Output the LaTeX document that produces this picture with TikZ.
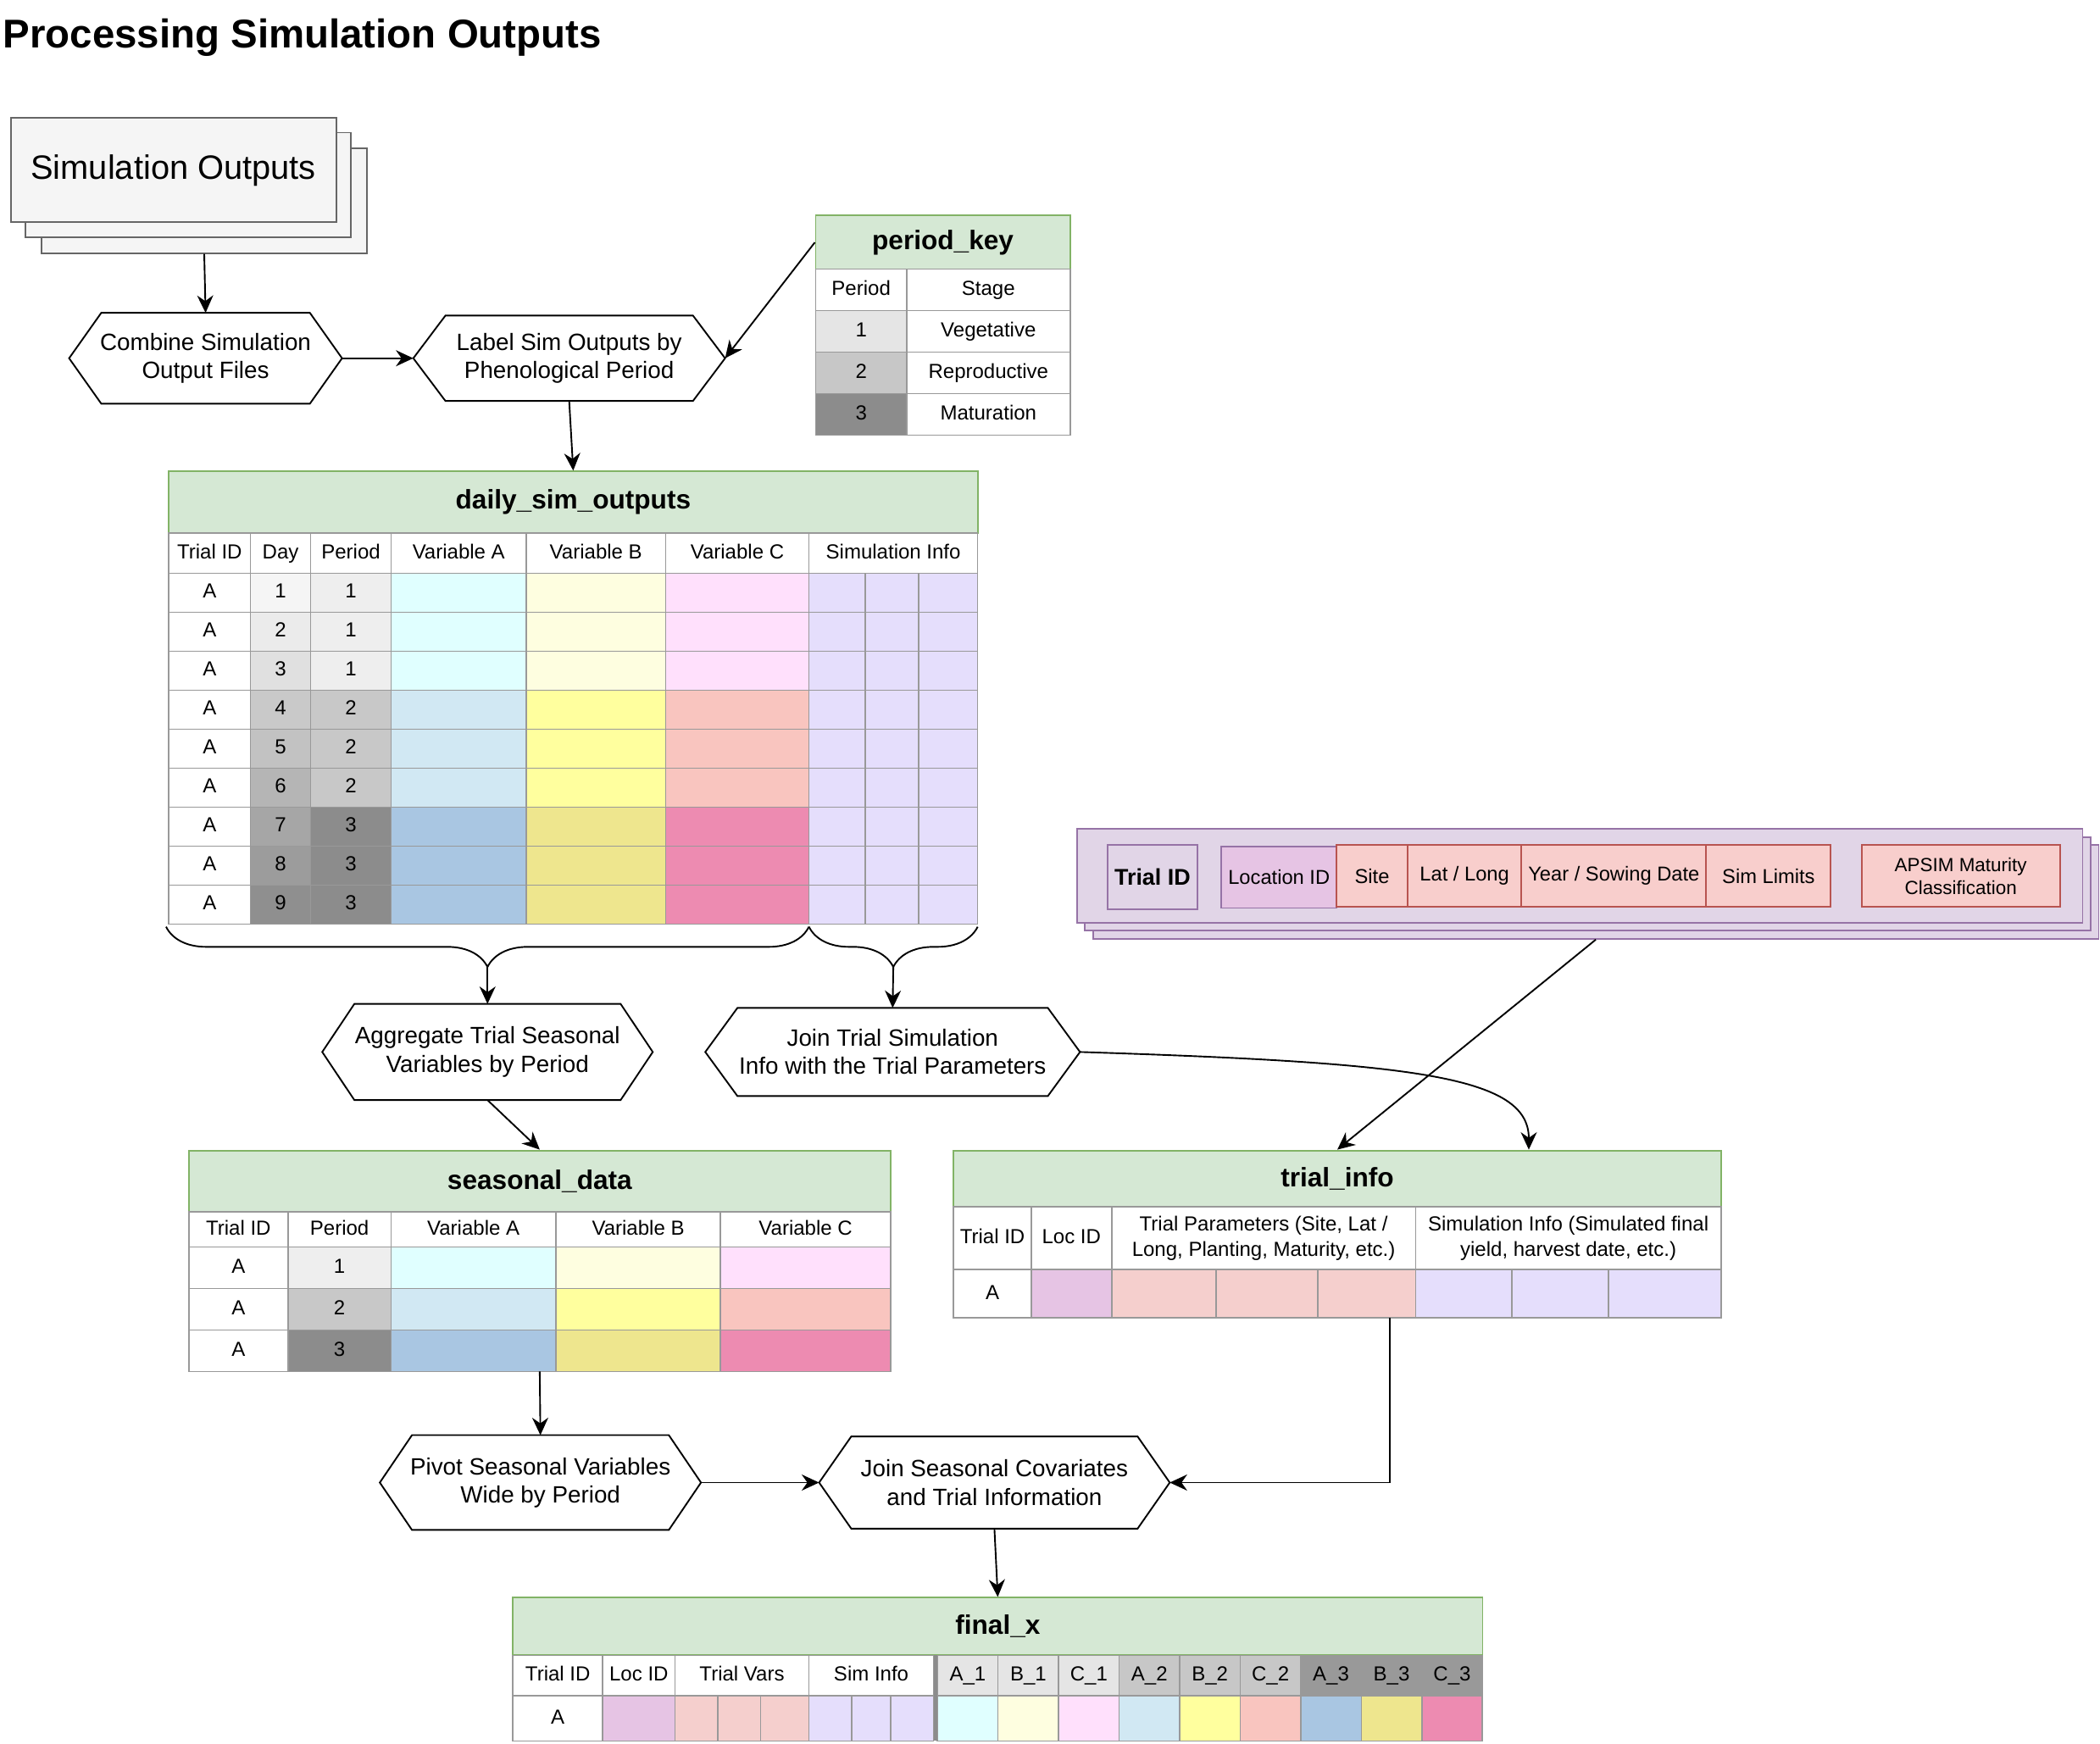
\documentclass[tikz,border=0pt]{standalone}
\usepackage{fontspec}
\setmainfont{Liberation Sans}
\usetikzlibrary{calc, positioning, arrows.meta, decorations.pathreplacing}
\definecolor{gridline}{HTML}{999999}
\definecolor{tabhead}{HTML}{D5E8D4}
\definecolor{tabedge}{HTML}{82B366}
\definecolor{stackfill}{HTML}{F5F5F5}
\definecolor{stackedge}{HTML}{666666}
\definecolor{per1}{HTML}{EEEEEE}
\definecolor{per2}{HTML}{C8C8C8}
\definecolor{per3}{HTML}{8C8C8C}
\definecolor{varA1}{HTML}{E0FFFF}
\definecolor{varA2}{HTML}{D1E8F3}
\definecolor{varA3}{HTML}{A9C6E2}
\definecolor{varB1}{HTML}{FEFEE0}
\definecolor{varB2}{HTML}{FFFF9E}
\definecolor{varB3}{HTML}{EEE68E}
\definecolor{varC1}{HTML}{FFE0FC}
\definecolor{varC2}{HTML}{F9C5BF}
\definecolor{varC3}{HTML}{ED8BB1}
\definecolor{siminfo}{HTML}{E5DEFC}
\definecolor{locid}{HTML}{E6C4E4}
\definecolor{trialpar}{HTML}{F5CFCD}
\definecolor{trialfill}{HTML}{E1D5E7}
\definecolor{trialedge}{HTML}{9673A6}
\definecolor{limfill}{HTML}{F8CECC}
\definecolor{limedge}{HTML}{B85450}

% box from corners: style, name, x1, y1, x2, y2, text
\newcommand{\tcell}[7]{%
  \node[#1, minimum width={(#5-#3)*0.5pt}, minimum height={(#6-#4)*0.5pt}]
    (#2) at ({(#3+#5)/2},{(#4+#6)/2}) {#7};}

\begin{document}
\begin{tikzpicture}[
  x=0.5pt, y=-0.5pt,
  >={Stealth[length=6.5pt,width=6pt]},
  cellbase/.style={draw=gridline, line width=0.5pt, inner sep=0pt, align=center, font=\fontsize{7.6}{9.5}\selectfont},
  cell/.style={cellbase, text height=5.6pt, text depth=1.5pt},
  tabtitle/.style={draw=tabedge, fill=tabhead, line width=0.6pt, inner sep=0pt, font=\fontsize{10}{12}\selectfont\bfseries},
  process/.style={inner sep=0pt, align=center, font=\fontsize{8.8}{10.5}\selectfont},
  stackbox/.style={draw=stackedge, fill=stackfill, line width=0.6pt, inner sep=0pt},
  purplebox/.style={draw=trialedge, fill=trialfill, line width=0.6pt, inner sep=0pt},
  rosebox/.style={draw=limedge, fill=limfill, line width=0.6pt, inner sep=0pt, align=center, font=\fontsize{7.5}{8.8}\selectfont},
  lilacbox/.style={rosebox, draw=trialedge, fill=locid},
  link/.style={->, line width=0.6pt}
]
  \useasboundingbox[fill=white] (0,0) rectangle (1568,1302);

  \node[anchor=base west, inner sep=0pt, font=\fontsize{15}{18}\selectfont\bfseries] (title) at (2,36) {Processing Simulation Outputs};

  % simulation outputs stack
  \tcell{stackbox}{simout3}{31}{111}{274}{189}{}
  \tcell{stackbox}{simout2}{19}{99}{262}{177}{}
  \tcell{stackbox, font=\fontsize{12.6}{15}\selectfont}{simout}{8}{88}{251}{166}{Simulation Outputs}

  % process steps
  \tcell{process}{combine}{52}{234}{255}{301}{Combine Simulation\\Output Files}
  \tcell{process}{label}{309}{236}{541}{299}{Label Sim Outputs by\\Phenological Period}
  \tcell{process}{aggregate}{241}{750}{487}{821}{Aggregate Trial Seasonal\\Variables by Period}
  \tcell{process}{jointrial}{527}{753}{806}{818}{Join Trial Simulation\\Info with the Trial Parameters}
  \tcell{process}{pivot}{284}{1072}{523}{1142}{Pivot Seasonal Variables\\Wide by Period}
  \tcell{process}{joinseason}{612}{1073}{873}{1141}{Join Seasonal Covariates\\and Trial Information}
  \foreach \h in {combine, label, aggregate, jointrial, pivot, joinseason} {
    \draw[line width=0.6pt] (\h.west) -- ([xshift=12pt]\h.north west) -- ([xshift=-12pt]\h.north east)
      -- (\h.east) -- ([xshift=-12pt]\h.south east) -- ([xshift=12pt]\h.south west) -- cycle;
  }

  % period_key
  \tcell{tabtitle}{pk}{609}{161}{799}{201}{period\_key}
  \tcell{cell, fill=white}{pk-h1}{609}{201}{677}{232}{Period}
  \tcell{cell, fill=white}{pk-h2}{677}{201}{799}{232}{Stage}
  \foreach \i/\g/\st in {1/10/Vegetative, 2/22/Reproductive, 3/45/Maturation} {
    \pgfmathsetmacro{\ya}{232+(\i-1)*31}
    \pgfmathsetmacro{\yb}{\ya+31}
    \tcell{cell, fill=black!\g}{pk-\i-p}{609}{\ya}{677}{\yb}{\i}
    \tcell{cell, fill=white}{pk-\i-s}{677}{\ya}{799}{\yb}{\st}
  }

  % daily_sim_outputs
  \tcell{tabtitle}{ds}{126}{352}{730}{398}{daily\_sim\_outputs}
  \foreach \nm/\a/\b/\t in {tid/126/187/Trial ID, day/187/232/Day, per/232/292/Period,
      va/292/393/Variable A, vb/393/497/Variable B, vc/497/604/Variable C, si/604/730/Simulation Info} {
    \tcell{cell, fill=white}{ds-h-\nm}{\a}{398}{\b}{428}{\t}
  }
  \foreach \i/\g in {1/4, 2/8, 3/12, 4/21, 5/24, 6/29, 7/35, 8/39, 9/44} {
    \pgfmathtruncatemacro{\p}{int((\i+2)/3)}
    \pgfmathsetmacro{\ya}{428+(\i-1)*29.11}
    \pgfmathsetmacro{\yb}{\ya+29.11}
    \tcell{cell, fill=white}{ds-\i-tid}{126}{\ya}{187}{\yb}{A}
    \tcell{cell, fill=black!\g}{ds-\i-day}{187}{\ya}{232}{\yb}{\i}
    \tcell{cell, fill=per\p}{ds-\i-per}{232}{\ya}{292}{\yb}{\p}
    \tcell{cell, fill=varA\p}{ds-\i-va}{292}{\ya}{393}{\yb}{}
    \tcell{cell, fill=varB\p}{ds-\i-vb}{393}{\ya}{497}{\yb}{}
    \tcell{cell, fill=varC\p}{ds-\i-vc}{497}{\ya}{604}{\yb}{}
    \tcell{cell, fill=siminfo}{ds-\i-s1}{604}{\ya}{646}{\yb}{}
    \tcell{cell, fill=siminfo}{ds-\i-s2}{646}{\ya}{686}{\yb}{}
    \tcell{cell, fill=siminfo}{ds-\i-s3}{686}{\ya}{730}{\yb}{}
  }

  % braces under daily_sim_outputs
  \draw[line width=0.6pt, decorate, decoration={brace, mirror, amplitude=15pt}] (124,692) -- (604,692);
  \draw[line width=0.6pt, decorate, decoration={brace, mirror, amplitude=15pt}] (604,692) -- (730,692);
  \coordinate (bA) at (364,722);
  \coordinate (bB) at (667,722);

  % seasonal_data
  \tcell{tabtitle}{sd}{141}{859}{665}{905}{seasonal\_data}
  \foreach \nm/\a/\b/\t in {tid/141/215/Trial ID, per/215/292/Period,
      va/292/415/Variable A, vb/415/538/Variable B, vc/538/665/Variable C} {
    \tcell{cell, fill=white}{sd-h-\nm}{\a}{905}{\b}{931}{\t}
  }
  \foreach \p in {1,2,3} {
    \pgfmathsetmacro{\ya}{931+(\p-1)*31}
    \pgfmathsetmacro{\yb}{\ya+31}
    \tcell{cell, fill=white}{sd-\p-tid}{141}{\ya}{215}{\yb}{A}
    \tcell{cell, fill=per\p}{sd-\p-per}{215}{\ya}{292}{\yb}{\p}
    \tcell{cell, fill=varA\p}{sd-\p-va}{292}{\ya}{415}{\yb}{}
    \tcell{cell, fill=varB\p}{sd-\p-vb}{415}{\ya}{538}{\yb}{}
    \tcell{cell, fill=varC\p}{sd-\p-vc}{538}{\ya}{665}{\yb}{}
  }

  % trial parameters stack
  \tcell{purplebox}{tp3}{816}{631}{1567}{701}{}
  \tcell{purplebox}{tp2}{810}{625}{1561}{695}{}
  \tcell{purplebox}{tp}{804}{619}{1555}{689}{}
  \tcell{purplebox, font=\fontsize{8.5}{10}\selectfont\bfseries}{tp-id}{827}{631}{894}{679}{Trial ID}
  \tcell{lilacbox}{tp-loc}{912}{632}{998}{678}{Location ID}
  \tcell{rosebox}{tp-site}{998}{631}{1051}{677}{Site}
  \tcell{rosebox}{tp-ll}{1051}{631}{1136}{677}{Lat / Long}
  \tcell{rosebox}{tp-sow}{1136}{631}{1274}{677}{Year / Sowing Date}
  \tcell{rosebox}{tp-lim}{1274}{631}{1367}{677}{Sim Limits}
  \tcell{rosebox, font=\fontsize{7.1}{8.5}\selectfont}{tp-apsim}{1390}{631}{1538}{677}{APSIM Maturity\\Classification}

  % trial_info
  \tcell{tabtitle}{ti}{712}{859}{1285}{901}{trial\_info}
  \tcell{cell, fill=white}{ti-h-tid}{712}{901}{770}{948}{Trial ID}
  \tcell{cell, fill=white}{ti-h-loc}{770}{901}{830}{948}{Loc ID}
  \tcell{cellbase, fill=white}{ti-h-par}{830}{901}{1057}{948}{Trial Parameters (Site, Lat /\\Long, Planting, Maturity, etc.)}
  \tcell{cellbase, fill=white}{ti-h-sim}{1057}{901}{1285}{948}{Simulation Info (Simulated final\\yield, harvest date, etc.)}
  \tcell{cell, fill=white}{ti-tid}{712}{948}{770}{984}{A}
  \tcell{cell, fill=locid}{ti-loc}{770}{948}{830}{984}{}
  \foreach \k/\a/\b in {1/830/908, 2/908/984, 3/984/1057} {
    \tcell{cell, fill=trialpar}{ti-par\k}{\a}{948}{\b}{984}{}
  }
  \foreach \k/\a/\b in {1/1057/1129, 2/1129/1201, 3/1201/1285} {
    \tcell{cell, fill=siminfo}{ti-sim\k}{\a}{948}{\b}{984}{}
  }

  % final_x
  \tcell{tabtitle}{fx}{383}{1193}{1107}{1236}{final\_x}
  \tcell{cell, fill=white}{fx-h-tid}{383}{1236}{450}{1266}{Trial ID}
  \tcell{cell, fill=white}{fx-h-loc}{450}{1236}{504}{1266}{Loc ID}
  \tcell{cell, fill=white}{fx-h-tv}{504}{1236}{604}{1266}{Trial Vars}
  \tcell{cell, fill=white}{fx-h-si}{604}{1236}{697}{1266}{Sim Info}
  \tcell{cell, fill=white}{fx-tid}{383}{1266}{450}{1300}{A}
  \tcell{cell, fill=locid}{fx-loc}{450}{1266}{504}{1300}{}
  \foreach \k/\a/\b in {1/504/536, 2/536/568, 3/568/604} {
    \tcell{cell, fill=trialpar}{fx-tv\k}{\a}{1266}{\b}{1300}{}
  }
  \foreach \k/\a/\b in {1/604/636, 2/636/665, 3/665/697} {
    \tcell{cell, fill=siminfo}{fx-si\k}{\a}{1266}{\b}{1300}{}
  }
  \foreach \k/\t/\hc/\dc in {0/A\_1/black!10/varA1, 1/B\_1/black!10/varB1, 2/C\_1/black!10/varC1,
      3/A\_2/black!22/varA2, 4/B\_2/black!22/varB2, 5/C\_2/black!22/varC2,
      6/A\_3/black!40/varA3, 7/B\_3/black!40/varB3, 8/C\_3/black!40/varC3} {
    \pgfmathsetmacro{\xa}{700+\k*45.2}
    \pgfmathsetmacro{\xb}{\xa+45.2}
    \tcell{cell, fill=\hc}{fx-h\k}{\xa}{1236}{\xb}{1266}{\t}
    \tcell{cell, fill=\dc}{fx-d\k}{\xa}{1266}{\xb}{1300}{}
  }
  \draw[line width=1.5pt, black!45] (698.5,1236) -- (698.5,1300);

  % connectors
  \coordinate (tiOut) at (1038,984);
  \coordinate (sdOut) at (403,1024);
  \draw[link] (simout3.south) -- (combine.north);
  \draw[link] (combine.east) -- (label.west);
  \draw[link] (pk.west) -- (label.east);
  \draw[link] (label.south) -- (ds.north);
  \draw[link] (bA) -- (aggregate.north);
  \draw[link] (bB) -- (jointrial.north);
  \draw[link] (aggregate.south) -- (sd.north);
  \draw[link] (jointrial.east) .. controls +(250,8) and +(0,-55) .. ([xshift=71.5pt]ti.north);
  \draw[link] (tp3.south) -- (ti.north);
  \draw[link] (tiOut) |- (joinseason.east);
  \draw[link] (sdOut) -- (pivot.north);
  \draw[link] (pivot.east) -- (joinseason.west);
  \draw[link] (joinseason.south) -- (fx.north);
\end{tikzpicture}
\end{document}
